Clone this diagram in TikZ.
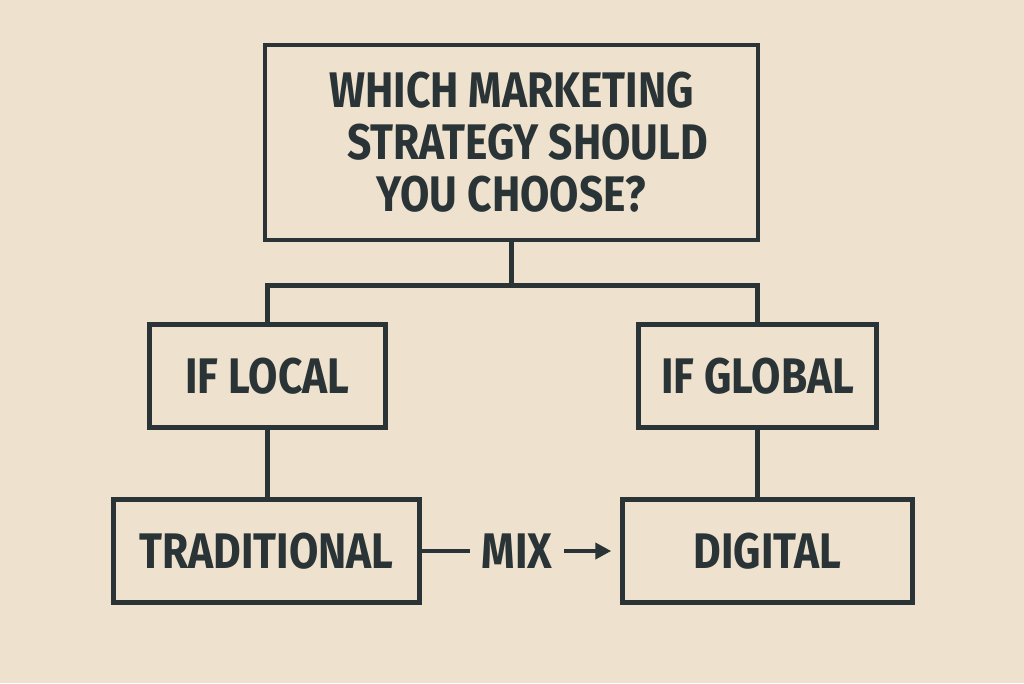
\documentclass[tikz,border=0pt]{standalone}
\usepackage{fontspec}
\newfontfamily\lblfont{Fira Sans}[FakeStretch=0.85]
\usetikzlibrary{arrows.meta}
\definecolor{bgc}{HTML}{EEE2CE}
\definecolor{ink}{HTML}{2A3436}
\tikzset{
  box/.style={draw=ink, line width=4.5pt, text=ink, font=\lblfont\bfseries\fontsize{50}{52}\selectfont, inner sep=0pt},
  conn/.style={draw=ink, line width=4.5pt},
  lbltext/.style={text=ink, font=\lblfont\bfseries\fontsize{50}{52}\selectfont, inner sep=12pt}
}
\begin{document}
\begin{tikzpicture}[x=1pt,y=-1pt]
\fill[bgc] (0,0) rectangle (1024,683);
\useasboundingbox (0,0) rectangle (1024,683);
\node[box, minimum width=493pt, minimum height=195pt, align=center] (top) at (511.5,142.5)
  {WHICH MARKETING\\\hspace*{32pt}STRATEGY SHOULD\\YOU CHOOSE?};
\node[box, minimum width=236pt, minimum height=103pt] (local) at (267.5,376) {IF LOCAL};
\node[box, minimum width=238pt, minimum height=103pt] (global) at (757.5,376) {IF GLOBAL};
\node[box, minimum width=306pt, minimum height=103pt] (trad) at (266.5,551) {TRADITIONAL};
\node[box, minimum width=290pt, minimum height=103pt] (digital) at (767.5,551) {DIGITAL};
\node[lbltext] (mix) at (517,551) {MIX};
\coordinate (j) at (511.5,285.5);
\draw[conn] (top.south) -- (j);
\draw[conn] (local.north) |- (j) -| (global.north);
\draw[conn] (local.south) -- (trad.north -| local.south);
\draw[conn] (global.south) -- (digital.north -| global.south);
\draw[conn] (trad.east) -- (mix.west);
\draw[conn, -{Triangle[length=16pt,width=16pt]}, shorten >=9pt] (mix.east) -- (digital.west);
\end{tikzpicture}
\end{document}
